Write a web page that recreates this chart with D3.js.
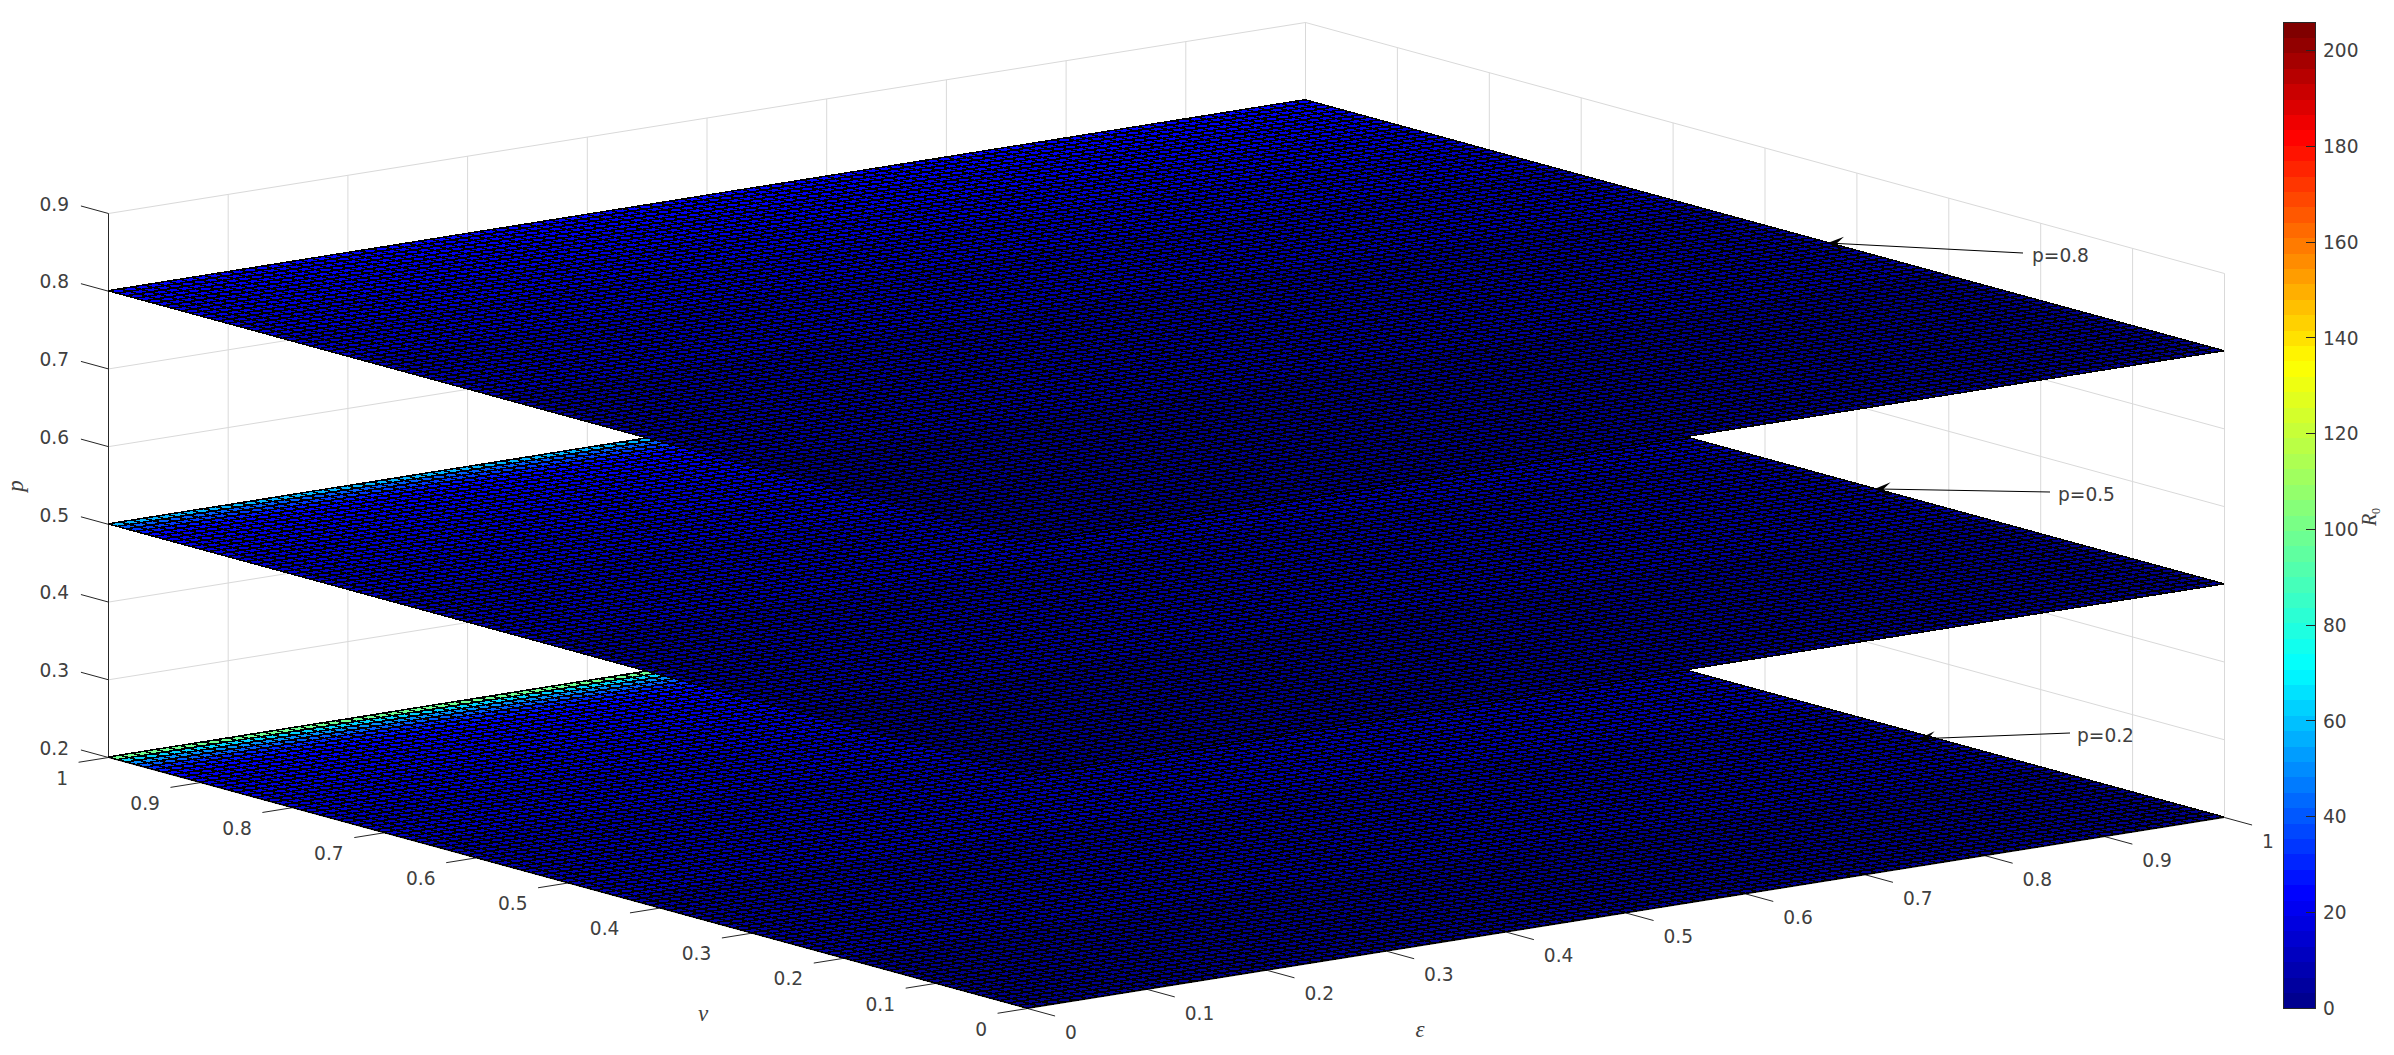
<!DOCTYPE html>
<html><head><meta charset="utf-8">
<script src="https://cdn.jsdelivr.net/npm/d3@7"></script>
<style>html,body{margin:0;padding:0;background:#fff;overflow:hidden}svg{display:block}
text{font-family:"DejaVu Sans",sans-serif;font-size:18.6px;fill:#404040}
.m{font-family:"Liberation Serif",serif;font-style:italic;font-size:23px}</style></head>
<body><svg id="c" width="2394" height="1055"></svg>
<script>
// ---- data ----
const epsTicks=[0,0.1,0.2,0.3,0.4,0.5,0.6,0.7,0.8,0.9,1];
const nuTicks=[0,0.1,0.2,0.3,0.4,0.5,0.6,0.7,0.8,0.9,1];
const pTicks=[0.2,0.3,0.4,0.5,0.6,0.7,0.8,0.9];
const cbTicks=[0,20,40,60,80,100,120,140,160,180,200];
const cbMax=206, meshCells=100;
const planes=[0.2,0.5,0.8];
// R0 per mesh row, from the nu=1 edge towards nu=0
const rowsP2=[98,62,50,39,32,27,24,22,21,20,19,18.5,18,17.5,17,16.5,16,15.5,15,14.5,14,13.6,13.2,12.8,12.4,12,11.7,11.4,11.1,10.8,10.5,10.2,10,9.8,9.6,9.4,9.2,9,8.8,8.6,8.4,8.2,8,7.8,7.7,7.6,7.5,7.4,7.3,7.2,7,6.9,6.8,6.7,6.6,6.5,6.4,6.3,6.2,6,5.9,5.8,5.6,5.5,5.4,5.2,5.1,5,4.8,4.7,4.6,4.4,4.3,4.2,4,3.9,3.8,3.6,3.5,3.4,3.2,3.1,3,2.9,2.8,2.6,2.5,2.4,2.2,2.1,2,1.9,1.8,1.6,1.5,1.4,1.2,1.1,1,0.9];
const rowsP5=[56,41,34,28,24,22,21,20,19,18,17.5,17,16.5,16,15.5,15,14.5,14,13.5,13,12.6,12.2,11.8,11.4,11,10.7,10.4,10.1,9.8,9.5,9.3,9.1,8.9,8.7,8.5,8.3,8.1,7.9,7.7,7.5,7.3,7.1,6.9,6.8,6.7,6.6,6.5,6.4,6.3,6.2,6,5.9,5.8,5.7,5.6,5.5,5.3,5.2,5.1,5,4.9,4.7,4.6,4.5,4.4,4.2,4.1,4,3.9,3.8,3.6,3.5,3.4,3.3,3.2,3,2.9,2.8,2.7,2.6,2.5,2.4,2.2,2.1,2,1.9,1.8,1.7,1.6,1.5,1.4,1.3,1.2,1.1,1,0.9,0.8,0.7,0.6,0.5];
const rowsP8=[23,22,21,20,19.5,19,18.5,18,17.5,17,16.5,16,15.5,15,14.5,14,13.5,13,12.6,12.2,11.8,11.4,11,10.7,10.4,10.1,9.8,9.5,9.2,8.9,8.7,8.5,8.3,8.1,7.9,7.7,7.5,7.3,7.1,6.9,6.7,6.5,6.3,6.2,6.1,6,5.9,5.8,5.7,5.5,5.4,5.3,5.2,5.1,5,4.8,4.7,4.6,4.5,4.4,4.2,4.1,4,3.9,3.8,3.6,3.5,3.4,3.3,3.2,3,2.9,2.8,2.7,2.6,2.5,2.4,2.2,2.1,2,1.9,1.8,1.7,1.6,1.5,1.4,1.3,1.2,1.1,1,0.9,0.8,0.7,0.6,0.5,0.5,0.4,0.4,0.3,0.3];
const planeRows=[rowsP2,rowsP5,rowsP8];
const noteLabels=["p=0.2","p=0.5","p=0.8"];
const notePlane=[0.2,0.5,0.8];
const noteEps=[0.99,0.999,0.999];
const noteNu=[0.319,0.379,0.43];

// ---- projection through scales ----
const ex=d3.scaleLinear([0,1],[0,1197]), ey=d3.scaleLinear([0,1],[0,-191]);
const nx=d3.scaleLinear([0,1],[0,-919]), ny=d3.scaleLinear([0,1],[0,-251]);
const zy=d3.scaleLinear([0.2,0.9],[0,-544]);
const P=(e,n,z)=>[1027+ex(e)+nx(n),1008+ey(e)+ny(n)+zy(z)];
const svg=d3.select("#c");
const line=d3.line();

// ---- jet colormap with 64 bands ----
const jet=d3.scaleLinear().domain([0,0.1094,0.3438,0.6563,0.8906,1])
  .range(["#00008f","#0000ff","#00ffff","#ffff00","#ff0000","#800000"]).interpolate(d3.interpolateRgb);
const bandIdx=d3.scaleQuantize().domain([0,cbMax]).range(d3.range(64));
const col=v=>jet(bandIdx(v)/63);

// ---- grid walls ----
const grid=svg.append("g").attr("transform","translate(0.5,0.5)").attr("fill","none").attr("stroke","#d9d9d9").attr("stroke-width",1);
epsTicks.forEach(e=>grid.append("path").attr("d",line([P(e,1,0.2),P(e,1,0.9)])));
nuTicks.forEach(n=>grid.append("path").attr("d",line([P(1,n,0.2),P(1,n,0.9)])));
pTicks.forEach(z=>grid.append("path").attr("d",line([P(0,1,z),P(1,1,z),P(1,0,z)])));

// ---- axes ----
const axis=svg.append("g").attr("transform","translate(0.5,0.5)").attr("fill","none").attr("stroke","#262626").attr("stroke-width",1);
axis.append("path").attr("d",line([P(0,1,0.2),P(0,1,0.9)]));
axis.append("path").attr("d",line([P(0,0,0.2),P(0,1,0.2)]));
axis.append("path").attr("d",line([P(0,0,0.2),P(1,0,0.2)]));
pTicks.forEach(z=>axis.append("path").attr("d",line([P(0,1,z),P(0,1.03,z)])));
nuTicks.forEach(n=>axis.append("path").attr("d",line([P(0,n,0.2),P(-0.025,n,0.2)])));
epsTicks.forEach(e=>axis.append("path").attr("d",line([P(e,0,0.2),P(e,-0.03,0.2)])));
const fmt=d3.format("~g");
pTicks.forEach(z=>{const p=P(0,1,z);svg.append("text").attr("x",p[0]-39).attr("y",p[1]-9).attr("dy","0.36em").attr("text-anchor","end").text(fmt(z));});
nuTicks.forEach(n=>{const p=P(0,n,0.2);svg.append("text").attr("x",p[0]-40).attr("y",p[1]+21).attr("dy","0.36em").attr("text-anchor","end").text(fmt(n));});
epsTicks.forEach(e=>{const p=P(e,0,0.2);svg.append("text").attr("x",p[0]+38).attr("y",p[1]+24).attr("dy","0.36em").text(fmt(e));});
svg.append("text").attr("class","m").attr("transform","translate(18,486) rotate(-90)").attr("text-anchor","middle").attr("dy","0.2em").text("p");
svg.append("text").attr("class","m").attr("x",703).attr("y",1016).attr("text-anchor","middle").attr("dy","0.2em").text("ν");
svg.append("text").attr("class","m").attr("x",1420).attr("y",1032).attr("text-anchor","middle").attr("dy","0.2em").text("ε");

// ---- surfaces, lowest first ----
planes.forEach((z,pi)=>{
  const g=svg.append("g").attr("stroke","#000").attr("stroke-width",1.5).attr("shape-rendering","crispEdges");
  planeRows[pi].forEach((v,r)=>{
    const n1=1-r/meshCells,n0=1-(r+1)/meshCells;let d="";
    for(let c=0;c<meshCells;c++){
      const e0=c/meshCells,e1=(c+1)/meshCells;
      d+=line([P(e0,n1,z),P(e1,n1,z),P(e1,n0,z),P(e0,n0,z)])+"Z";
    }
    g.append("path").attr("d",d).attr("fill",col(v));
  });
});

// ---- annotations ----
const noteTail=[[2070,733],[2050,492],[2023,253]];
const noteText=[[2077,735],[2058,494],[2032,255]];
notePlane.forEach((z,i)=>{
  const tip=P(noteEps[i],noteNu[i],z),t=noteTail[i];
  const a=Math.atan2(t[1]-tip[1],t[0]-tip[0]);
  const L=(u,w)=>[tip[0]+u*Math.cos(a)-w*Math.sin(a),tip[1]+u*Math.sin(a)+w*Math.cos(a)];
  svg.append("path").attr("d",line([tip,t])).attr("stroke","#000").attr("stroke-width",1).attr("fill","none");
  svg.append("path").attr("d",line([tip,L(16,-7),L(9,0),L(16,7)])+"Z").attr("fill","#000");
  svg.append("text").attr("x",noteText[i][0]).attr("y",noteText[i][1]).attr("dy","0.36em").text(noteLabels[i]);
});

// ---- colorbar ----
const cy=d3.scaleLinear([0,cbMax],[1008,22]);
const cb=svg.append("g").attr("shape-rendering","crispEdges");
d3.range(64).forEach(i=>{
  const v0=bandIdx.invertExtent(i);
  cb.append("rect").attr("x",2283).attr("width",32).attr("y",cy(v0[1])).attr("height",cy(v0[0])-cy(v0[1])+0.5).attr("fill",jet(i/63));
});
cb.append("rect").attr("x",2283).attr("y",22).attr("width",32).attr("height",986).attr("fill","none").attr("stroke","#262626");
cbTicks.forEach(v=>{
  cb.append("path").attr("d",line([[2306,cy(v)],[2315,cy(v)]])).attr("stroke","#262626");
  svg.append("text").attr("x",2323).attr("y",cy(v)).attr("dy","0.36em").text(v);
});
const rl=svg.append("text").attr("transform","translate(2376,517) rotate(-90)").attr("text-anchor","middle")
  .style("font-family","'Liberation Serif',serif").style("font-style","italic").style("font-size","20px");
rl.append("tspan").text("R");
rl.append("tspan").attr("dy",4).style("font-size","12px").style("font-style","normal").text("0");
</script></body></html>
